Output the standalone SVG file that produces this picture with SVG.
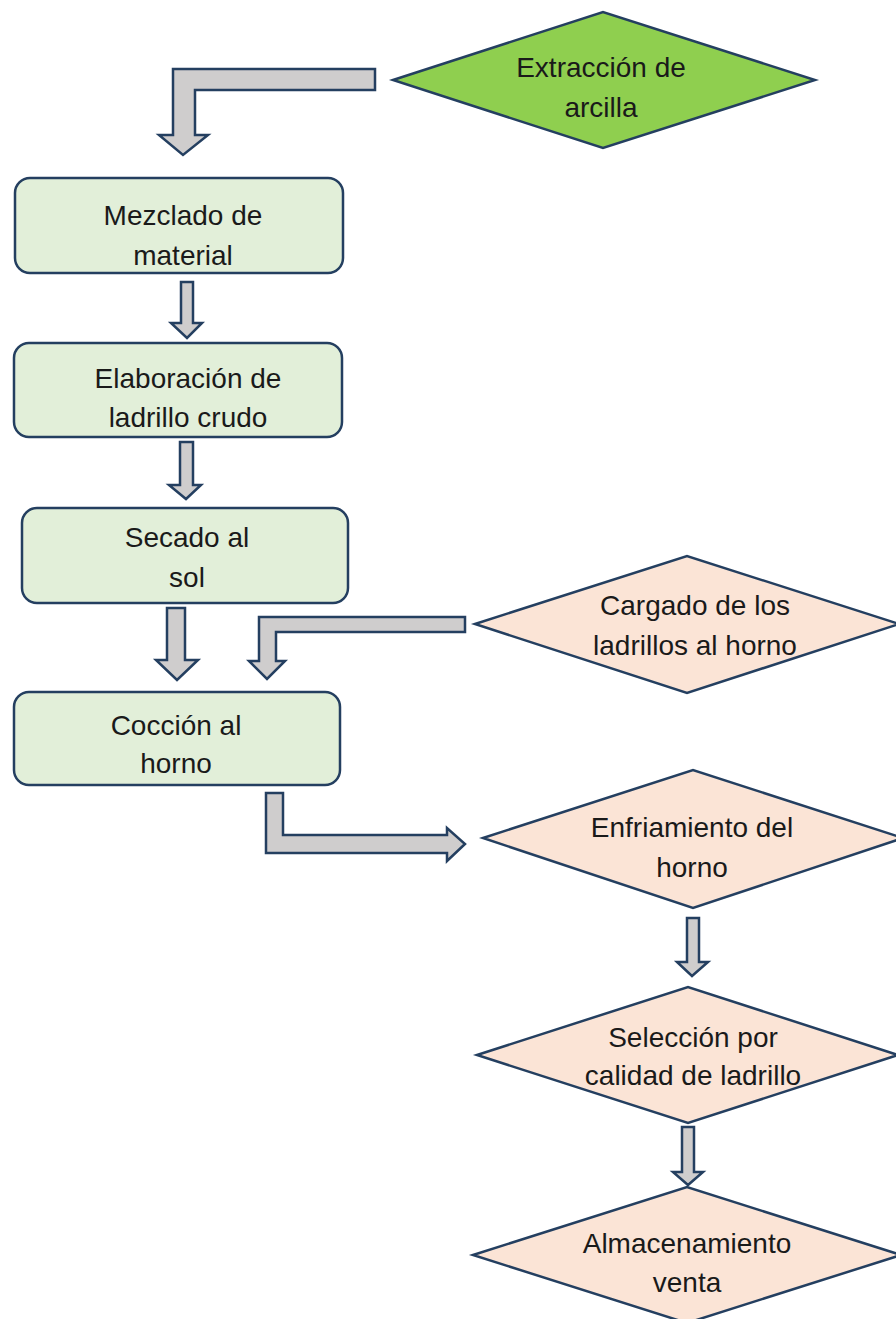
<svg xmlns="http://www.w3.org/2000/svg" width="896" height="1319" viewBox="0 0 896 1319">
<style>
.box{fill:#e2efd9;stroke:#243f60;stroke-width:2.5}
.dg{fill:#8fcf4f;stroke:#243f60;stroke-width:2.5}
.dp{fill:#fbe4d6;stroke:#243f60;stroke-width:2.5}
.arr{fill:#cfcdcd;stroke:#243f60;stroke-width:2.5;stroke-linejoin:miter}
text{font-family:"Liberation Sans",Arial,sans-serif;font-size:28px;fill:#1a1a1a;text-anchor:middle}
</style>
<rect width="896" height="1319" fill="#ffffff"/>
<g id="connectors">
<polygon class="arr" points="375,69 375,90 195,90 195,135 208,135 183,155 159,135 173,135 173,69"/>
<polygon class="arr" points="181,282 193,282 193,323 202,323 187,338 171,323 181,323"/>
<polygon class="arr" points="180,442 193,442 193,485 201,485 186,499 169,485 180,485"/>
<polygon class="arr" points="167,608 185,608 185,660 198,660 177,680 156,660 167,660"/>
<polygon class="arr" points="465,617 465,632 276,632 276,661 285,661 267,679 249,661 259,661 259,617"/>
<polygon class="arr" points="266,793 283,793 283,835 447,835 447,828 465,844 447,861 447,853 266,853"/>
<polygon class="arr" points="687,918 699,918 699,962 708,962 692,976 677,962 687,962"/>
<polygon class="arr" points="682,1127 694,1127 694,1172 703,1172 688,1185 673,1172 682,1172"/>
</g>
<g id="extraccion">
<polygon class="dg" points="393,80 603,12 815,80 603,148"/>
<text x="601" y="77">Extracción de</text>
<text x="601" y="117">arcilla</text>
</g>
<g id="mezclado">
<rect class="box" x="15" y="178" width="328" height="95" rx="15"/>
<text x="183" y="225">Mezclado de</text>
<text x="183" y="265">material</text>
</g>
<g id="elaboracion">
<rect class="box" x="14" y="343" width="328" height="94" rx="15"/>
<text x="188" y="388">Elaboración de</text>
<text x="188" y="427">ladrillo crudo</text>
</g>
<g id="secado">
<rect class="box" x="22" y="508" width="326" height="95" rx="15"/>
<text x="187" y="547">Secado al</text>
<text x="187" y="587">sol</text>
</g>
<g id="coccion">
<rect class="box" x="14" y="692" width="326" height="93" rx="15"/>
<text x="176" y="735">Cocción al</text>
<text x="176" y="773">horno</text>
</g>
<g id="cargado">
<polygon class="dp" points="475,624 687,556 899,624 687,693"/>
<text x="695" y="615">Cargado de los</text>
<text x="695" y="655">ladrillos al horno</text>
</g>
<g id="enfriamiento">
<polygon class="dp" points="483,838 693,770 903,838 693,908"/>
<text x="692" y="837">Enfriamiento del</text>
<text x="692" y="877">horno</text>
</g>
<g id="seleccion">
<polygon class="dp" points="477,1055 688,987 898,1055 688,1123"/>
<text x="693" y="1047">Selección por</text>
<text x="693" y="1085">calidad de ladrillo</text>
</g>
<g id="almacenamiento">
<polygon class="dp" points="473,1255 687,1187 901,1255 687,1323"/>
<text x="687" y="1253">Almacenamiento</text>
<text x="687" y="1292">venta</text>
</g>
</svg>
